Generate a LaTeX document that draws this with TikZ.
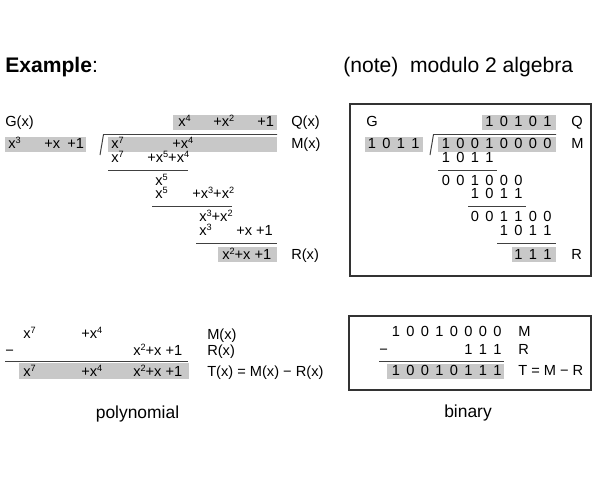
\documentclass[tikz,border=0pt]{standalone}
\usepackage{fontspec}
\setmainfont{Liberation Sans}
\definecolor{boxgray}{RGB}{200,200,200}
\newcommand{\pw}[1]{\raisebox{0.33em}{\fontsize{6.5}{7}\selectfont #1}}
% one row of bits: name, x of column 0, first column, baseline, digits
\newcommand{\bits}[5]{%
  \foreach \d [count=\i from #3] in {#5}
    \node[anchor=base] (#1\i) at ({#2+14.5*\i},#4) {\d};}

\begin{document}
\begin{tikzpicture}[x=0.025cm, y=-0.025cm,
  every node/.style={inner sep=0pt, anchor=base west, font=\fontsize{10.4}{12}\selectfont},
  head/.style={font=\fontsize{15}{18}\selectfont},
  caption/.style={anchor=base, font=\fontsize{12.4}{14}\selectfont},
  rule/.style={black!75, line width=0.7pt},
  gbox/.style={fill=boxgray},
  frame/.style={draw=black!80, line width=1pt}]
	\useasboundingbox (0,0) rectangle (600,480);
	\node[head] (title) at (5,72) {\textbf{Example}:};
	\node[head] (note) at (343,72) {(note)\ \ modulo 2 algebra};

	% polynomial division
	\fill[gbox] (5,137) rectangle (86,152);
	\fill[gbox] (173,115) rectangle (277,130);
	\fill[gbox] (108,137) rectangle (277,152);
	\fill[gbox] (218,247) rectangle (277,262);
	\node (gx) at (5,126.5) {G(x)};
	\node (ga) at (8,148) {x\pw{3}};
	\node (gb) at (44,148) {+x};
	\node (gc) at (67,148) {+1};
	\node (qa) at (178,126) {x\pw{4}};
	\node (qb) at (213,126) {+x\pw{2}};
	\node (qc) at (257,126) {+1};
	\node (qx) at (291,126.5) {Q(x)};
	\draw[rule] (100,155) -- (103.5,134.5) -- (277,134.5);
	\node (ma) at (111,148) {x\pw{7}};
	\node (mb) at (172,148) {+x\pw{4}};
	\node (mx) at (291,148.5) {M(x)};
	\node (sa) at (111,162.5) {x\pw{7}};
	\node (sb) at (147,162.5) {+x\pw{5}+x\pw{4}};
	\draw[rule] (108,170) -- (188,170);
	\node (da) at (155,185) {x\pw{5}};
	\node (sc) at (155,198.5) {x\pw{5}};
	\node (sd) at (192,198.5) {+x\pw{3}+x\pw{2}};
	\draw[rule] (152,206.5) -- (232,206.5);
	\node (db) at (199,221) {x\pw{3}+x\pw{2}};
	\node (se) at (199,235) {x\pw{3}};
	\node (sf) at (236,235) {+x +1};
	\draw[rule] (196,243.5) -- (277,243.5);
	\node (ra) at (222,259) {x\pw{2}+x +1};
	\node (rx) at (291,259) {R(x)};

	% binary division
	\draw[frame] (350,104) rectangle (591,276);
	\fill[gbox] (482,115) rectangle (556,130);
	\fill[gbox] (365,137) rectangle (423,152);
	\fill[gbox] (438,137) rectangle (556,152);
	\fill[gbox] (512,247) rectangle (556,262);
	\node (gl) at (366,126.5) {G};
	\bits{q}{446}{3}{126}{1,0,1,0,1}
	\node (ql) at (571,126.5) {Q};
	\bits{g}{372}{0}{148}{1,0,1,1}
	\draw[rule] (430,155) -- (433.5,134.5) -- (556,134.5);
	\bits{m}{446}{0}{148}{1,0,0,1,0,0,0,0}
	\node (ml) at (571,148.5) {M};
	\bits{a}{446}{0}{162.5}{1,0,1,1}
	\draw[rule] (438,170) -- (497,170);
	\bits{b}{446}{0}{185}{0,0,1,0,0,0}
	\bits{c}{446}{2}{198.5}{1,0,1,1}
	\draw[rule] (468,206.5) -- (526,206.5);
	\bits{d}{446}{2}{221}{0,0,1,1,0,0}
	\bits{e}{446}{4}{235}{1,0,1,1}
	\draw[rule] (497,243.5) -- (556,243.5);
	\bits{r}{446}{5}{259}{1,1,1}
	\node (rl) at (571,259) {R};

	% polynomial subtraction
	\fill[gbox] (19,363) rectangle (189,379);
	\node (pa) at (23,338.5) {x\pw{7}};
	\node (pb) at (81,338.5) {+x\pw{4}};
	\node (pm) at (207,339) {M(x)};
	\node (pminus) at (5,355) {−};
	\node (pc) at (133,355) {x\pw{2}+x +1};
	\node (pr) at (207,355) {R(x)};
	\draw[rule] (5,361) -- (188,361);
	\node (ta) at (23,376) {x\pw{7}};
	\node (tb) at (81,376) {+x\pw{4}};
	\node (tc) at (133,376) {x\pw{2}+x +1};
	\node (tx) at (207,376) {T(x) = M(x) − R(x)};
	\node[caption] (poly) at (137.5,418) {polynomial};

	% binary subtraction
	\draw[frame] (349,316) rectangle (591,390);
	\fill[gbox] (387,364) rectangle (504,379);
	\bits{u}{396}{0}{336}{1,0,0,1,0,0,0,0}
	\node (um) at (518,336) {M};
	\node (bminus) at (379,354) {−};
	\bits{v}{396}{5}{354}{1,1,1}
	\node (vr) at (518,354) {R};
	\draw[rule] (379,361) -- (504,361);
	\bits{w}{396}{0}{375}{1,0,0,1,0,1,1,1}
	\node (wt) at (518,375) {T = M − R};
	\node[caption] (bin) at (468,417) {binary};
\end{tikzpicture}
\end{document}
